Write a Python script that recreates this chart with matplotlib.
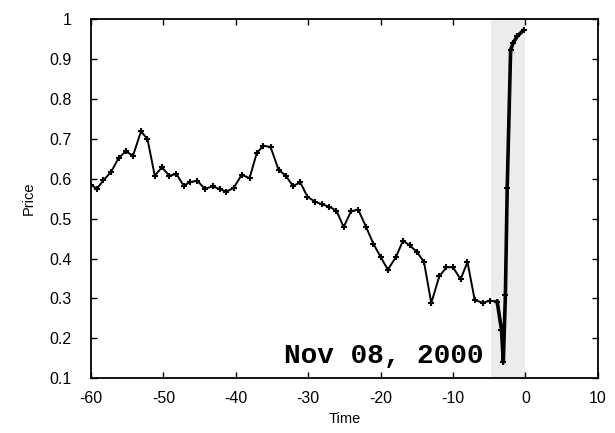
import matplotlib
matplotlib.use("Agg")
import matplotlib.pyplot as plt

# Daily price series (time relative to election day)
time_days = [-60.0, -59.2, -58.3, -57.2, -56.2, -55.2, -54.2, -53.1, -52.2, -51.2,
             -50.2, -49.2, -48.2, -47.2, -46.3, -45.3, -44.3, -43.2, -42.2, -41.3,
             -40.3, -39.2, -38.1, -37.1, -36.2, -35.2, -34.1, -33.1, -32.1, -31.1,
             -30.1, -29.1, -28.1, -27.1, -26.1, -25.1, -24.1, -23.1, -22.0, -21.0,
             -20.0, -19.0, -17.9, -16.9, -16.0, -15.0, -14.0, -13.0, -11.9, -10.9,
             -10.0, -8.95, -8.0, -7.0, -5.9, -4.9, -3.9]
price_days = [0.585, 0.575, 0.596, 0.618, 0.652, 0.669, 0.658, 0.719, 0.700, 0.608,
              0.629, 0.608, 0.612, 0.583, 0.592, 0.595, 0.575, 0.581, 0.574, 0.568,
              0.577, 0.610, 0.602, 0.665, 0.683, 0.680, 0.623, 0.608, 0.582, 0.591,
              0.555, 0.543, 0.536, 0.530, 0.520, 0.479, 0.518, 0.523, 0.479, 0.437,
              0.404, 0.372, 0.403, 0.445, 0.433, 0.417, 0.391, 0.288, 0.355, 0.378,
              0.378, 0.348, 0.391, 0.296, 0.289, 0.294, 0.292]

# Final stretch (election night)
time_final = [-3.9, -3.3, -3.05, -2.76, -2.51, -2.04, -1.69, -1.13, -0.25]
price_final = [0.292, 0.221, 0.140, 0.309, 0.577, 0.924, 0.941, 0.958, 0.973]

band_x = [-4.8, 0.0]
x_ticks = [-60, -50, -40, -30, -20, -10, 0, 10]
x_tick_labels = ["-60", "-50", "-40", "-30", "-20", "-10", "0", "10"]
y_ticks = [0.1, 0.2, 0.3, 0.4, 0.5, 0.6, 0.7, 0.8, 0.9, 1.0]
y_tick_labels = ["0.1", "0.2", "0.3", "0.4", "0.5", "0.6", "0.7", "0.8", "0.9", "1"]
annotation = "Nov 08, 2000"

plt.rcParams['font.family'] = ['Liberation Sans', 'DejaVu Sans']

fig = plt.figure(figsize=(6.15, 4.33), dpi=100)
ax = fig.add_axes([0.148, 0.127, 0.824, 0.828])

ax.axvspan(band_x[0], band_x[1], facecolor='#ececec', edgecolor='none', zorder=0)

ax.plot(time_days, price_days, color='black', linewidth=1.4, marker='+',
        markersize=5, markeredgewidth=1.5, zorder=3)
ax.plot(time_final, price_final, color='black', linewidth=2.6, marker='+',
        markersize=5, markeredgewidth=1.5, zorder=3)

ax.text(-5.8, 0.137, annotation, ha='right', va='baseline',
        family=['Liberation Mono', 'DejaVu Sans Mono'], fontweight='bold',
        fontsize=20, zorder=4)

ax.set_xlim(-60, 10)
ax.set_ylim(0.1, 1.0)
ax.set_xticks(x_ticks)
ax.set_xticklabels(x_tick_labels)
ax.set_yticks(y_ticks)
ax.set_yticklabels(y_tick_labels)
ax.tick_params(direction='in', length=4, width=1, top=True, right=True,
               labelsize=11.5)
ax.tick_params(axis='y', pad=14)
ax.tick_params(axis='x', pad=9)
for s in ax.spines.values():
    s.set_linewidth(1.3)

ax.set_xlabel('Time', fontsize=10.5, labelpad=5)
ax.set_ylabel('Price', fontsize=10.5, labelpad=10)

fig.savefig('out.png', dpi=100)
